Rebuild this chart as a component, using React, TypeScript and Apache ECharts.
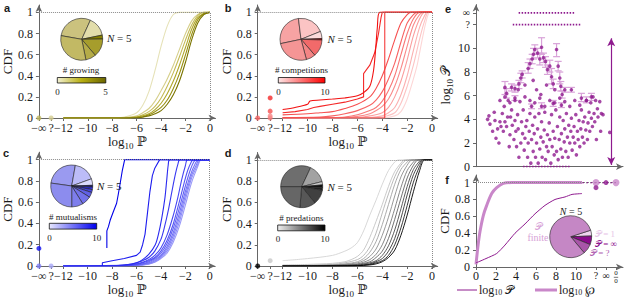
import React, { useEffect, useRef } from "react";
import * as echarts from "echarts";

const SERIF = '"Liberation Serif", "DejaVu Serif", serif';
const SANS = '"Liberation Sans", "DejaVu Sans", Arial, sans-serif';
const AXIS = "#666";
const INK = "#1a1a1a";

// ---------- ticks ----------
const cdfXTicks = [-14, -13, -12, -10, -8, -6, -4, -2, 0];
const cdfYTicks = [0, 0.2, 0.4, 0.6, 0.8, 1];
const eYTicks = [0, 2, 4, 6, 8, 10, 12, 13];
const fXTicks = [0, 2, 4, 6, 8, 10, 12, 13, 14];
const fXLabels = [0, 2, 4, 6, 8, 10, 12, 13];

// ---------- panel a: # growing ----------
const growingColors = ["#e6e2b8", "#d6cf8a", "#c4bb55", "#b0a72a", "#978f10", "#7a7400"];
const growingX = [-12, -8, -7, -6, -5.5, -5, -4.5, -4, -3.5, -3, -2.5, -2, -1.5, -1, -0.5, 0];
const growingY = [
  [0, 0, 0.01, 0.05, 0.12, 0.25, 0.45, 0.68, 0.87, 0.98, 1, 1, 1, 1, 1, 1],
  [0, 0, 0.005, 0.02, 0.05, 0.09, 0.16, 0.26, 0.37, 0.5, 0.65, 0.8, 0.92, 0.98, 1, 1],
  [0, 0, 0, 0.01, 0.03, 0.06, 0.11, 0.19, 0.3, 0.43, 0.58, 0.74, 0.88, 0.97, 1, 1],
  [0, 0, 0, 0.01, 0.02, 0.04, 0.08, 0.14, 0.23, 0.35, 0.5, 0.67, 0.84, 0.95, 0.99, 1],
  [0, 0, 0, 0.005, 0.01, 0.03, 0.06, 0.1, 0.17, 0.28, 0.42, 0.6, 0.79, 0.93, 0.99, 1],
  [0, 0, 0, 0, 0.01, 0.02, 0.04, 0.07, 0.13, 0.22, 0.35, 0.53, 0.74, 0.9, 0.98, 1],
];
const growingDots = [[-14, 0], [-13, 0]];
const growingDotColors = ["#bdb45a", "#d3cc8e"];
const growingPie = [29, 15, 3, 14, 8, 31];
const growingPieColors = ["#cbc27e", "#e2ddab", "#857f00", "#a69d2c", "#b5ac48", "#c2b964"];

// ---------- panel b: # competitions ----------
const compColors = ["#fdd6d6", "#fcc3c3", "#fbb0b0", "#fa9d9d", "#f98a8a", "#f87777", "#f76363", "#f65050", "#f53c3c", "#f42828", "#f21010"];
const compCurves = [
  [[-12, 0], [-4, 0], [-3, 0.02], [-2.5, 0.06], [-2, 0.18], [-1.5, 0.37], [-1.2, 0.5], [-1, 0.62], [-0.7, 0.8], [-0.4, 0.95], [-0.2, 1], [0, 1]],
  [[-12, 0], [-5, 0], [-4, 0.01], [-3, 0.05], [-2.5, 0.14], [-2, 0.3], [-1.5, 0.5], [-1, 0.75], [-0.6, 0.92], [-0.3, 1], [0, 1]],
  [[-12, 0], [-5, 0.005], [-4, 0.02], [-3.5, 0.05], [-3, 0.1], [-2.5, 0.22], [-2, 0.4], [-1.5, 0.64], [-1, 0.86], [-0.6, 0.97], [-0.4, 1], [0, 1]],
  [[-12, 0], [-6, 0.005], [-5, 0.02], [-4, 0.05], [-3.5, 0.1], [-3, 0.2], [-2.5, 0.35], [-2, 0.55], [-1.5, 0.78], [-1, 0.94], [-0.6, 1], [0, 1]],
  [[-12, 0], [-7, 0.005], [-6, 0.015], [-5, 0.04], [-4.5, 0.07], [-4, 0.11], [-3.5, 0.18], [-3, 0.3], [-2.5, 0.47], [-2, 0.68], [-1.5, 0.88], [-1, 0.98], [-0.7, 1], [0, 1]],
  [[-12, 0], [-8, 0.005], [-7, 0.01], [-6, 0.03], [-5, 0.07], [-4.5, 0.1], [-4, 0.16], [-3.5, 0.26], [-3, 0.4], [-2.5, 0.6], [-2, 0.8], [-1.5, 0.94], [-1, 1], [0, 1]],
  [[-12, 0.005], [-9, 0.01], [-8, 0.02], [-7, 0.04], [-6, 0.07], [-5, 0.12], [-4.5, 0.17], [-4, 0.25], [-3.5, 0.37], [-3, 0.52], [-2.5, 0.72], [-2, 0.9], [-1.5, 0.98], [-1.2, 1], [0, 1]],
  [[-12, 0.03], [-10, 0.04], [-9, 0.05], [-8, 0.06], [-7, 0.09], [-6, 0.13], [-5, 0.2], [-4.5, 0.28], [-4, 0.4], [-3.5, 0.56], [-3, 0.74], [-2.5, 0.9], [-2, 0.98], [-1.7, 1], [0, 1]],
  [[-12, 0], [-3.8, 0], [-3.8, 1], [0, 1]],
  [[-12, 0.05], [-11, 0.06], [-10, 0.08], [-9.5, 0.1], [-9, 0.11], [-8, 0.13], [-7, 0.15], [-6, 0.18], [-5.5, 0.2], [-5.5, 0.42], [-5, 0.5], [-4.6, 0.62], [-4.3, 0.8], [-4.1, 0.95], [-4, 1], [0, 1]],
  [[-12, 0.08], [-11, 0.1], [-10, 0.13], [-9.8, 0.16], [-9, 0.17], [-8, 0.18], [-7, 0.19], [-6, 0.21], [-5.5, 0.24], [-5, 0.3], [-4.7, 0.45], [-4.5, 0.7], [-4.4, 0.85], [-4.2, 1], [0, 1]],
];
const compDots = [[-14, 0], [-13, 0], [-13, 0.02], [-13, 0.065], [-13, 0.19]];
const compDotColors = ["#f76363", "#f87777", "#f98a8a", "#f65050", "#f42828"];
const compPie = [95, 75, 20, 4, 47, 26, 93];
const compPieColors = ["#f7a3a3", "#fbc4c4", "#fcdada", "#c00000", "#f26a6a", "#f48585", "#f59595"];

// ---------- panel c: # mutualisms ----------
const mutColors = ["#9a9af8", "#8c8cf7", "#7e7ef6", "#7070f5", "#6262f4", "#5454f3", "#4646f2", "#3838f1", "#2a2af0", "#1c1cef", "#0000e8"];
const mutCurves = [
  [[-12, 0], [-6, 0.005], [-5, 0.018], [-4.5, 0.035], [-4, 0.07], [-3.5, 0.12], [-3, 0.22], [-2.5, 0.37], [-2, 0.57], [-1.5, 0.78], [-1, 0.93], [-0.7, 1], [0, 1]],
  [[-12, 0], [-6, 0.006], [-5, 0.02], [-4.5, 0.04], [-4, 0.08], [-3.5, 0.14], [-3, 0.25], [-2.5, 0.41], [-2, 0.62], [-1.5, 0.82], [-1, 0.95], [-0.75, 1], [0, 1]],
  [[-12, 0], [-6, 0.008], [-5, 0.025], [-4.5, 0.05], [-4, 0.09], [-3.5, 0.16], [-3, 0.28], [-2.5, 0.45], [-2, 0.66], [-1.5, 0.85], [-1.1, 0.95], [-0.85, 1], [0, 1]],
  [[-12, 0], [-6, 0.01], [-5.5, 0.018], [-5, 0.03], [-4.5, 0.06], [-4, 0.1], [-3.5, 0.18], [-3, 0.31], [-2.5, 0.49], [-2, 0.7], [-1.5, 0.88], [-1.2, 0.96], [-0.95, 1], [0, 1]],
  [[-12, 0], [-6.5, 0.005], [-6, 0.01], [-5.5, 0.02], [-5, 0.04], [-4.5, 0.07], [-4, 0.12], [-3.5, 0.21], [-3, 0.35], [-2.5, 0.54], [-2, 0.75], [-1.6, 0.9], [-1.3, 0.98], [-1.1, 1], [0, 1]],
  [[-12, 0], [-7, 0.003], [-6, 0.015], [-5.5, 0.03], [-5, 0.05], [-4.5, 0.08], [-4, 0.14], [-3.5, 0.24], [-3, 0.39], [-2.5, 0.6], [-2.1, 0.78], [-1.8, 0.9], [-1.5, 0.98], [-1.35, 1], [0, 1]],
  [[-12, 0], [-7, 0.005], [-6, 0.02], [-5.5, 0.035], [-5, 0.06], [-4.5, 0.1], [-4, 0.17], [-3.5, 0.29], [-3, 0.47], [-2.6, 0.65], [-2.3, 0.81], [-2, 0.94], [-1.8, 1], [0, 1]],
  [[-12, 0], [-7.5, 0.005], [-6.5, 0.015], [-6, 0.03], [-5.5, 0.05], [-5, 0.08], [-4.5, 0.14], [-4, 0.25], [-3.7, 0.37], [-3.4, 0.52], [-3.1, 0.7], [-2.8, 0.87], [-2.6, 0.96], [-2.45, 1], [0, 1]],
  [[-12, 0], [-8, 0.005], [-7, 0.01], [-6, 0.03], [-5.5, 0.06], [-5, 0.11], [-4.46, 0.2], [-4.2, 0.3], [-3.93, 0.45], [-3.67, 0.64], [-3.53, 0.8], [-3.4, 0.95], [-3.27, 1], [0, 1]],
  [[-8.8, 0], [-8.8, 0.03], [-8, 0.05], [-7, 0.07], [-6, 0.1], [-5.7, 0.13], [-5.5, 0.2], [-5.3, 0.3], [-5.1, 0.5], [-4.9, 0.7], [-4.7, 0.85], [-4.5, 0.92], [-4.1, 1], [0, 1]],
  [[-8.43, 0.17], [-8.43, 0.33], [-8.3, 0.37], [-8.16, 0.43], [-7.9, 0.51], [-7.63, 0.59], [-7.5, 0.67], [-7.32, 0.79], [-7.16, 0.9], [-6.97, 1], [0, 1]],
];
const mutDots = [[-14, 0], [-13, 0], [-14, 0.165]];
const mutDotColors = ["#7a7af5", "#a8a8f8", "#1010f0"];
const mutPie = [92, 60, 18, 5, 7, 8, 14, 26, 32, 98];
const mutPieColors = ["#9a9af0", "#bcbcf8", "#dcdcfc", "#10106a", "#3030d8", "#4a4ae0", "#6060e6", "#7272ea", "#7e7eec", "#8c8cee"];

// ---------- panel d: # predations ----------
const predColors = ["#d4d4d4", "#c4c4c4", "#b2b2b2", "#a0a0a0", "#8c8c8c", "#787878", "#626262", "#4c4c4c", "#363636", "#202020", "#000000"];
const predCurves = [
  [[-12, 0.05], [-10, 0.07], [-8, 0.1], [-7, 0.14], [-6.5, 0.17], [-6, 0.22], [-5.5, 0.33], [-5, 0.48], [-4.5, 0.62], [-4, 0.77], [-3.5, 0.9], [-3, 0.98], [-2.7, 1], [0, 1]],
  [[-12, 0.01], [-10, 0.015], [-8, 0.025], [-7, 0.04], [-6.5, 0.06], [-6, 0.09], [-5.5, 0.15], [-5, 0.27], [-4.5, 0.42], [-4, 0.58], [-3.5, 0.75], [-3, 0.89], [-2.5, 0.97], [-2.2, 1], [0, 1]],
  [[-12, 0], [-9, 0.01], [-8, 0.015], [-7, 0.03], [-6, 0.06], [-5.5, 0.1], [-5, 0.18], [-4.5, 0.31], [-4, 0.5], [-3.5, 0.68], [-3, 0.84], [-2.5, 0.95], [-2, 1], [0, 1]],
  [[-12, 0], [-8, 0.01], [-7, 0.02], [-6, 0.04], [-5.5, 0.07], [-5, 0.13], [-4.5, 0.23], [-4, 0.39], [-3.5, 0.58], [-3, 0.77], [-2.5, 0.91], [-2, 0.98], [-1.8, 1], [0, 1]],
  [[-12, 0], [-8, 0.005], [-7, 0.015], [-6, 0.03], [-5.5, 0.05], [-5, 0.09], [-4.5, 0.16], [-4, 0.29], [-3.5, 0.46], [-3, 0.66], [-2.5, 0.84], [-2, 0.95], [-1.6, 1], [0, 1]],
  [[-12, 0], [-7, 0.01], [-6, 0.02], [-5.5, 0.035], [-5, 0.06], [-4.5, 0.11], [-4, 0.2], [-3.5, 0.35], [-3, 0.54], [-2.5, 0.74], [-2, 0.9], [-1.5, 0.98], [-1.3, 1], [0, 1]],
  [[-12, 0], [-7, 0.005], [-6, 0.015], [-5, 0.04], [-4.5, 0.08], [-4, 0.14], [-3.5, 0.26], [-3, 0.44], [-2.5, 0.64], [-2, 0.83], [-1.5, 0.95], [-1.1, 1], [0, 1]],
  [[-12, 0], [-6, 0.01], [-5, 0.03], [-4.5, 0.05], [-4, 0.1], [-3.5, 0.19], [-3, 0.34], [-2.5, 0.54], [-2, 0.75], [-1.5, 0.91], [-1, 0.99], [-0.9, 1], [0, 1]],
  [[-12, 0], [-6, 0.005], [-5, 0.02], [-4.5, 0.04], [-4, 0.07], [-3.5, 0.14], [-3, 0.26], [-2.5, 0.45], [-2, 0.67], [-1.5, 0.86], [-1, 0.97], [-0.8, 1], [0, 1]],
  [[-12, 0], [-6, 0.005], [-5, 0.015], [-4.5, 0.03], [-4, 0.05], [-3.5, 0.1], [-3, 0.2], [-2.5, 0.36], [-2, 0.57], [-1.5, 0.79], [-1, 0.94], [-0.7, 1], [0, 1]],
  [[-12, 0], [-6, 0.003], [-5, 0.01], [-4.5, 0.02], [-4, 0.04], [-3.5, 0.08], [-3, 0.15], [-2.5, 0.29], [-2, 0.48], [-1.5, 0.7], [-1, 0.9], [-0.6, 1], [0, 1]],
];
const predDots = [[-14, 0], [-13, 0.05]];
const predDotColors = ["#000000", "#c8c8c8"];
const predPie = [115, 51, 9, 7, 8, 41, 44, 85];
const predPieColors = ["#6e6e6e", "#a2a2a2", "#cacaca", "#101010", "#222222", "#404040", "#575757", "#666666"];

// ---------- panel e: log10 P scatter ----------
const pointsE = [
  [8.8, 4.3], [9.5, 3.6], [12.4, 4.6], [12.9, 3.9], [13.6, 2.4], [14.7, 3.2], [15.6, 2.0], [17.0, 3.4], [17.9, 4.5], [18.6, 3.0],
  [19.2, 5.1], [19.7, 3.8], [20.8, 3.4], [21.5, 4.2], [22.6, 1.7], [23.1, 2.7], [24.2, 4.8], [24.7, 3.5], [25.8, 2.3], [26.5, 3.9],
  [27.1, 3.0], [27.6, 1.7], [28.3, 4.4], [28.7, 3.2], [29.2, 0.8], [30.5, 2.0], [31.0, 3.8], [31.7, 2.8], [32.1, 4.8], [32.8, 1.4],
  [33.3, 2.4], [33.9, 3.4], [34.6, 3.9], [35.1, 0.8], [35.5, 2.0], [36.2, 3.0], [36.7, 4.5], [37.3, 0.3], [37.8, 2.3], [38.5, 3.5],
  [38.9, 1.3], [39.6, 2.8], [40.0, 4.2], [40.5, 0.8], [41.2, 2.0], [41.9, 3.2], [42.3, 0.3], [42.8, 4.5], [43.4, 1.5], [44.1, 2.5],
  [44.6, 3.8], [45.0, 0.8], [45.7, 2.1], [46.4, 3.1], [46.8, 4.6], [47.3, 0.6], [48.0, 1.7], [48.6, 2.7], [49.1, 1.3], [49.8, 3.7],
  [50.2, 2.3], [50.9, 0.3], [51.4, 4.4], [51.8, 1.7], [52.5, 3.0], [53.2, 1.0], [53.6, 2.4], [54.3, 4.8], [54.8, 1.3], [55.4, 3.4],
  [55.9, 0.6], [56.6, 2.3], [57.0, 4.2], [57.7, 1.5], [58.1, 2.8], [58.8, 0.8], [59.3, 3.9], [60.0, 2.1], [60.4, 3.2], [61.1, 1.3],
  [61.5, 4.5], [62.2, 2.5], [62.7, 0.8], [63.1, 3.5], [63.8, 2.0], [64.5, 3.0], [64.9, 4.1], [65.4, 1.4], [66.1, 2.5], [66.7, 3.4],
  [67.2, 2.0], [67.9, 4.4], [68.3, 1.0], [69.0, 3.0], [69.5, 2.3], [70.1, 3.9], [70.6, 1.7], [71.3, 3.2], [71.7, 4.8], [72.4, 2.5],
  [72.9, 3.8], [73.5, 2.0], [74.0, 4.2], [74.7, 3.1], [75.1, 5.6], [75.8, 2.3], [76.2, 3.7], [76.9, 4.6], [77.4, 3.0], [78.1, 5.4],
  [78.5, 4.1], [79.2, 3.4], [79.6, 5.9], [80.3, 4.5], [80.8, 3.8], [81.4, 5.6], [81.9, 2.3], [82.6, 4.9], [83.0, 4.2], [84.2, 5.5],
  [84.8, 3.0], [85.3, 4.5], [86.4, 4.4], [91.0, 2.9], [7.9, 4.0], [11.3, 3.0], [16.3, 3.8], [23.5, 4.2], [26.5, 5.6], [29.9, 5.5],
  [33.3, 5.9], [36.7, 5.6], [40.0, 5.4], [43.4, 5.8], [46.8, 5.1], [50.2, 5.6], [53.6, 5.4], [57.0, 5.8], [60.4, 5.5], [63.8, 5.1],
  [67.2, 5.6], [70.6, 5.2], [16.3, 5.6], [19.7, 5.9], [23.1, 5.4], [38.9, 7.3], [41.2, 6.5], [44.1, 6.1], [48.0, 6.9], [53.6, 6.5],
  [33.3, 6.9], [28.7, 6.5], [21.9, 5.6],
];
// [x, y, low, high]
const errorBarsE = [
  [19.7, 6.7, 6.1, 7.2], [20.8, 6.2, 5.8, 6.6], [24.2, 6.7, 6.4, 7.0], [26.5, 6.6, 6.3, 6.9], [26.5, 5.8, 5.6, 6.0],
  [29.2, 7.0, 6.6, 7.3], [30.5, 7.5, 7.1, 7.9], [31.4, 7.8, 7.5, 8.1], [35.5, 8.3, 7.9, 8.8], [36.7, 8.7, 8.3, 9.1],
  [38.2, 9.1, 8.7, 9.5], [39.1, 9.5, 9.1, 10.0], [40.0, 9.9, 9.5, 10.3], [41.9, 9.6, 9.2, 10.0], [43.4, 9.1, 8.6, 9.6],
  [44.6, 10.1, 9.5, 10.9], [45.9, 9.2, 8.8, 9.6], [47.3, 8.9, 8.4, 9.3], [48.6, 8.2, 7.8, 8.6], [50.2, 8.5, 8.0, 9.0],
  [51.4, 7.6, 7.0, 8.3], [52.5, 7.0, 6.6, 7.4], [54.8, 9.9, 9.3, 10.4], [55.9, 8.5, 8.1, 8.9], [57.0, 7.5, 7.0, 8.0],
  [57.7, 6.8, 6.4, 7.2], [58.6, 6.1, 5.8, 6.4], [60.4, 6.5, 6.3, 6.7], [64.9, 6.5, 6.3, 6.7], [71.7, 5.8, 5.5, 6.2],
  [75.1, 5.6, 5.4, 5.9], [78.5, 5.9, 5.6, 6.2], [37.8, 5.1, 4.9, 5.3], [44.6, 5.1, 4.9, 5.4], [52.5, 5.35, 5.1, 5.6],
  [58.1, 5.2, 5.0, 5.4],
];
const infRowE = [[29, 13], [67, 13]];
const unknownRowE = [[25, 12], [71, 12]];
const zeroRowE = [[32, 0], [64, 0]];
const rangeArrowE = [[92, 0.15], [92, 10.85]];

// ---------- panel f ----------
const fCurveP = [[0, 0.05], [0.23, 0.06], [1, 0.1], [2.07, 0.16], [2.9, 0.26], [3.9, 0.4], [4.9, 0.51], [5.9, 0.63], [6.9, 0.73], [7.9, 0.8], [8.9, 0.83], [9.6, 0.86], [10.6, 0.87]];
const fCurveW = [[0, 0.03], [0.2, 0.25], [0.4, 0.42], [0.73, 0.61], [1.07, 0.73], [1.57, 0.87], [2.07, 0.94], [2.73, 0.99], [3.6, 1], [10.6, 1]];
const fDots = [[12, 1], [14, 1], [12, 0.94], [13, 1]];
const fDotColors = ["#c987c9", "#c987c9", "#8e1a8e", "#8e1a8e"];
const fDotSizes = [7, 7, 5, 5];
const fTail = [[10.6, 1], [14, 1]];
const fPie = [16, 24, 28, 292];
const fPieColors = ["#efd4ef", "#8b0a8b", "#a855a8", "#c587c5"];

const PURPLE = "#8e1a8e";
const LIGHTPURPLE = "#c987c9";

function richLog(size: number, pad = 8) {
  return {
    a: { fontFamily: SERIF, fontSize: size, color: INK, fill: INK },
    s: { fontFamily: SERIF, fontSize: Math.round(size * 0.7), color: INK, fill: INK, padding: [pad, 0, 0, 0] },
  };
}

function fmtLog(v: number) {
  if (v === -14) return "−∞";
  if (v === -13) return "?";
  if (v < 0) return "−" + Math.abs(v);
  return String(v);
}

const axisLineStyle = (arrow = true) => ({
  show: true,
  onZero: false,
  symbol: arrow ? ["none", "arrow"] : "none",
  symbolSize: [5, 7],
  lineStyle: { color: AXIS, width: 1 },
});

function xAxisCdf(gi: number) {
  return {
    gridIndex: gi, type: "value", min: -14, max: 0.45,
    axisLine: axisLineStyle(),
    axisTick: { show: true, customValues: cdfXTicks, length: 3, lineStyle: { color: AXIS } },
    axisLabel: { customValues: cdfXTicks, formatter: fmtLog, fontFamily: SERIF, fontSize: 12, color: INK, margin: 4 },
    splitLine: { show: false },
    name: "{a|log}{s|10}{a| ℙ}", nameLocation: "middle", nameGap: 15,
    nameTextStyle: { rich: richLog(13) },
  };
}

function yAxisCdf(gi: number, max: number) {
  return {
    gridIndex: gi, type: "value", min: 0, max,
    axisLine: axisLineStyle(),
    axisTick: { show: true, customValues: cdfYTicks, length: 3, lineStyle: { color: AXIS } },
    axisLabel: { customValues: cdfYTicks, fontFamily: SERIF, fontSize: 12, color: INK, margin: 6 },
    splitLine: { show: false },
    name: "CDF", nameLocation: "middle", nameRotate: 90, nameGap: 20,
    nameTextStyle: { fontFamily: SERIF, fontSize: 13, color: INK },
  };
}

function cdfSeries(gi: number, curves: number[][][], colors: string[], dots: number[][], dotColors: string[], width: number) {
  const out: any[] = [];
  out.push({
    type: "line", xAxisIndex: gi, yAxisIndex: gi, data: [[-14, 1]], symbol: "none", silent: true,
    lineStyle: { opacity: 0 }, z: 1,
    markLine: {
      silent: true, symbol: "none", label: { show: false },
      lineStyle: { type: "dotted", color: "#8a8a8a", width: 1 },
      data: [
        [{ coord: [-14, 1] }, { coord: [0, 1] }],
        [{ coord: [0, 0] }, { coord: [0, 1] }],
      ],
    },
  });
  curves.forEach((pts, i) => {
    let hasStep = false;
    for (let k = 1; k < pts.length; k++) if (pts[k][0] === pts[k - 1][0]) hasStep = true;
    out.push({
      type: "line", xAxisIndex: gi, yAxisIndex: gi, data: pts, symbol: "none", silent: true,
      smooth: hasStep ? false : 0.3,
      lineStyle: { color: colors[i], width },
      z: 3,
    });
  });
  out.push({
    type: "scatter", xAxisIndex: gi, yAxisIndex: gi, clip: false, silent: true, symbolSize: 5, z: 4,
    data: dots.map((d, i) => ({ value: d, itemStyle: { color: dotColors[i] } })),
  });
  return out;
}

function pieSeries(center: number[], values: number[], colors: string[], startAngle: number) {
  return {
    type: "pie", center, radius: 21, startAngle, clockwise: true, silent: true, z: 6,
    label: { show: false }, labelLine: { show: false },
    itemStyle: { borderColor: "#222", borderWidth: 0.6 },
    data: values.map((v, i) => ({ value: v, itemStyle: { color: colors[i] } })),
  };
}

function txt(x: number, y: number, text: string, extra: any = {}) {
  return {
    type: "text", x, y, silent: true, z: 10,
    style: { text, fontFamily: SERIF, fontSize: 9, fill: INK, align: "center", verticalAlign: "middle", ...extra },
  };
}

function colorbar(x: number, y: number, w: number, h: number, stops: string[]) {
  return {
    type: "rect", silent: true, z: 10,
    shape: { x, y, width: w, height: h },
    style: {
      fill: new echarts.graphic.LinearGradient(0, 0, 1, 0, stops.map((c, i) => ({ offset: i / (stops.length - 1), color: c }))),
      stroke: "#111", lineWidth: 0.8,
    },
  };
}

const nRich = { i: { fontFamily: SERIF, fontStyle: "italic", fontSize: 11, fill: INK } };

export default function App() {
  const ref = useRef<HTMLDivElement>(null);
  useEffect(() => {
    document.body.style.margin = "0";
    if (!ref.current) return;
    const chart = echarts.init(ref.current, null, { renderer: "svg" });

    const grids = [
      { left: 38, top: 5, width: 177.5, height: 113 },
      { left: 257.7, top: 5, width: 180, height: 113 },
      { left: 37.7, top: 152.2, width: 177.5, height: 114.5 },
      { left: 257.7, top: 152.5, width: 180, height: 115.2 },
      { left: 476, top: 4.6, width: 147, height: 162.1 },
      { left: 476, top: 175, width: 147, height: 92 },
    ];

    const xAxes: any[] = [xAxisCdf(0), xAxisCdf(1), xAxisCdf(2), xAxisCdf(3)];
    const yAxes: any[] = [yAxisCdf(0, 1.07), yAxisCdf(1, 1.07), yAxisCdf(2, 1.07), yAxisCdf(3, 1.07)];

    xAxes.push({
      gridIndex: 4, type: "value", min: 0, max: 100,
      axisLine: axisLineStyle(), axisTick: { show: false }, axisLabel: { show: false }, splitLine: { show: false },
    });
    yAxes.push({
      gridIndex: 4, type: "value", min: 0, max: 13.7,
      axisLine: axisLineStyle(),
      axisTick: { show: true, customValues: eYTicks, length: 3, lineStyle: { color: AXIS } },
      axisLabel: {
        customValues: eYTicks, fontFamily: SERIF, fontSize: 12, color: INK, margin: 6,
        formatter: (v: number) => (v === 12 ? "{q|?}" : v === 13 ? "{q|∞}" : String(v)),
        rich: { q: { fontFamily: SERIF, fontSize: 10, lineHeight: 10, color: INK } },
      },
      splitLine: { show: false },
      name: "{a|log}{s|10}{a| 𝒫}", nameLocation: "middle", nameRotate: 90, nameGap: 16,
      nameTextStyle: { rich: richLog(13) },
    });
    xAxes.push({
      gridIndex: 5, type: "value", min: 0, max: 14.7,
      axisLine: axisLineStyle(),
      axisTick: { show: true, customValues: fXTicks, length: 3, lineStyle: { color: AXIS } },
      axisLabel: {
        customValues: fXLabels, fontFamily: SERIF, fontSize: 12, color: INK, margin: 3,
        formatter: (v: number) => (v === 12 ? "{q|?}" : v === 13 ? "{q|∞}" : String(v)),
        rich: { q: { fontFamily: SERIF, fontSize: 10, color: INK } },
      },
      splitLine: { show: false },
    });
    yAxes.push({ ...yAxisCdf(5, 1.09), nameGap: 19 });

    const series: any[] = [
      ...cdfSeries(0, growingY.map((ys) => ys.map((y, k) => [growingX[k], y])), growingColors, growingDots, growingDotColors, 1.1),
      ...cdfSeries(1, compCurves, compColors, compDots, compDotColors, 1.1),
      ...cdfSeries(2, mutCurves, mutColors, mutDots, mutDotColors, 1.1),
      ...cdfSeries(3, predCurves, predColors, predDots, predDotColors, 0.9),
      pieSeries([81.7, 39.3], growingPie, growingPieColors, 170),
      pieSeries([301, 39.3], compPie, compPieColors, 192),
      pieSeries([71.7, 186], mutPie, mutPieColors, 172),
      pieSeries([301.7, 186.7], predPie, predPieColors, 180),
      // panel e
      ...[infRowE, unknownRowE, zeroRowE].map((row) => ({
        type: "line", xAxisIndex: 4, yAxisIndex: 4, data: row, symbol: "none", silent: true, z: 3,
        lineStyle: { color: PURPLE, width: 1.8, type: [1.5, 1.5] },
      })),
      {
        type: "custom", xAxisIndex: 4, yAxisIndex: 4, data: errorBarsE, silent: true, z: 3,
        encode: { x: 0, y: [1, 2, 3] },
        renderItem: (params: any, api: any) => {
          const c = api.coord([api.value(0), api.value(1)]);
          const lo = api.coord([api.value(0), api.value(2)]);
          const hi = api.coord([api.value(0), api.value(3)]);
          const w = 3.5;
          const style = { stroke: "#d8a2d8", lineWidth: 1.2 };
          return {
            type: "group",
            children: [
              { type: "line", shape: { x1: c[0], y1: lo[1], x2: c[0], y2: hi[1] }, style },
              { type: "line", shape: { x1: c[0] - w, y1: lo[1], x2: c[0] + w, y2: lo[1] }, style },
              { type: "line", shape: { x1: c[0] - w, y1: hi[1], x2: c[0] + w, y2: hi[1] }, style },
            ],
          };
        },
      },
      {
        type: "scatter", xAxisIndex: 4, yAxisIndex: 4, silent: true, z: 4, symbolSize: 3.6,
        itemStyle: { color: PURPLE },
        data: [...pointsE, ...errorBarsE.map((e) => [e[0], e[1]])],
        markLine: {
          silent: true, symbol: ["arrow", "arrow"], symbolSize: [6, 8], label: { show: false },
          lineStyle: { type: "solid", color: PURPLE, width: 1.2 },
          data: [[{ coord: rangeArrowE[0] }, { coord: rangeArrowE[1] }]],
        },
      },
      // panel f
      {
        type: "line", xAxisIndex: 5, yAxisIndex: 5, data: [[0, 1]], symbol: "none", silent: true,
        lineStyle: { opacity: 0 }, z: 1,
        markLine: {
          silent: true, symbol: "none", label: { show: false },
          lineStyle: { type: "dotted", color: "#8a8a8a", width: 1 },
          data: [[{ coord: [0, 1] }, { coord: [14, 1] }]],
        },
      },
      {
        type: "line", xAxisIndex: 5, yAxisIndex: 5, data: fTail, symbol: "none", silent: true, z: 2,
        lineStyle: { color: PURPLE, width: 1.3, type: [2, 2] },
      },
      {
        type: "line", xAxisIndex: 5, yAxisIndex: 5, data: fCurveW, symbol: "none", silent: true, smooth: 0.3, z: 3,
        lineStyle: { color: LIGHTPURPLE, width: 3 },
      },
      {
        type: "line", xAxisIndex: 5, yAxisIndex: 5, data: fCurveP, symbol: "none", silent: true, smooth: 0.2, z: 4,
        lineStyle: { color: PURPLE, width: 1 },
      },
      {
        type: "scatter", xAxisIndex: 5, yAxisIndex: 5, silent: true, clip: false, z: 5,
        data: fDots.map((d, i) => ({ value: d, symbolSize: fDotSizes[i], itemStyle: { color: fDotColors[i] } })),
      },
      pieSeries([570.7, 236.7], fPie, fPieColors, 18),
    ];

    const graphic: any[] = [
      txt(7, 8, "a", { fontFamily: SANS, fontWeight: "bold", fontSize: 11 }),
      txt(228, 8, "b", { fontFamily: SANS, fontWeight: "bold", fontSize: 11 }),
      txt(6, 153, "c", { fontFamily: SANS, fontWeight: "bold", fontSize: 11 }),
      txt(228, 153, "d", { fontFamily: SANS, fontWeight: "bold", fontSize: 11 }),
      txt(448, 9, "e", { fontFamily: SANS, fontWeight: "bold", fontSize: 11 }),
      txt(447, 180, "f", { fontFamily: SANS, fontWeight: "bold", fontSize: 11 }),
      // N = 5
      txt(107, 38, "{i|N} = 5", { align: "left", fontSize: 11, rich: nRich }),
      txt(327.5, 39, "{i|N} = 5", { align: "left", fontSize: 11, rich: nRich }),
      txt(97, 186, "{i|N} = 5", { align: "left", fontSize: 11, rich: nRich }),
      txt(327.5, 187, "{i|N} = 5", { align: "left", fontSize: 11, rich: nRich }),
      txt(571, 211, "{i|N} = 5", { fontSize: 10, rich: { i: { ...nRich.i, fontSize: 10 } } }),
      // colorbars
      txt(81, 70, "# growing"),
      colorbar(57.3, 77.5, 48.5, 5.5, ["#f2f0d2", "#b8af12", "#6b6600"]),
      txt(57.5, 92, "0"),
      txt(105.5, 92, "5"),
      txt(301.5, 70, "# competitions"),
      colorbar(278.3, 77.5, 46.7, 5.5, ["#fde6e6", "#ff0000"]),
      txt(278.5, 92, "0"),
      txt(325, 92, "10"),
      txt(73, 216.5, "# mutualisms"),
      colorbar(49.3, 223.3, 47.4, 5.8, ["#e6e6fd", "#0000f0"]),
      txt(49.5, 237.5, "0"),
      txt(96.7, 237.5, "10"),
      txt(301.3, 217.5, "# predations"),
      colorbar(277.7, 225, 47.3, 5.8, ["#eeeeee", "#000000"]),
      txt(278, 239, "0"),
      txt(325, 239, "10"),
      // panel f: "0/0" tick label drawn as a fraction
      txt(616, 273.2, "0", { fontSize: 7 }),
      { type: "line", silent: true, z: 10, shape: { x1: 613.8, y1: 277.3, x2: 618.2, y2: 277.3 }, style: { stroke: INK, lineWidth: 0.6 } },
      txt(616, 281.4, "0", { fontSize: 7 }),
      // panel f pie labels
      txt(538, 226, "𝒫", { fill: "#d7a2d7", fontSize: 10 }),
      txt(538, 237, "finite", { fill: "#d7a2d7", fontSize: 10 }),
      txt(595, 234, "𝒫 = 1", { align: "left", fill: "#e6c4e6", fontSize: 9 }),
      txt(595, 243.5, "𝒫 = ∞", { align: "left", fill: "#8b0a8b", fontSize: 9 }),
      txt(590, 253, "𝒫 = ?", { align: "left", fill: "#b060b0", fontSize: 9 }),
      // panel f legend
      { type: "line", silent: true, z: 10, shape: { x1: 457, y1: 290, x2: 477, y2: 290 }, style: { stroke: PURPLE, lineWidth: 1 } },
      txt(479, 290, "{a|log}{s|10}{a| 𝒫}", { align: "left", rich: richLog(12, 5) }),
      { type: "line", silent: true, z: 10, shape: { x1: 535, y1: 290, x2: 557, y2: 290 }, style: { stroke: LIGHTPURPLE, lineWidth: 3 } },
      txt(559, 290, "{a|log}{s|10}{a| ℘}", { align: "left", rich: richLog(12, 5) }),
    ];

    chart.setOption({
      animation: false,
      textStyle: { fontFamily: SERIF },
      grid: grids,
      xAxis: xAxes,
      yAxis: yAxes,
      series,
      graphic,
    });
    return () => chart.dispose();
  }, []);
  return <div ref={ref} style={{ width: 626, height: 299 }} />;
}
